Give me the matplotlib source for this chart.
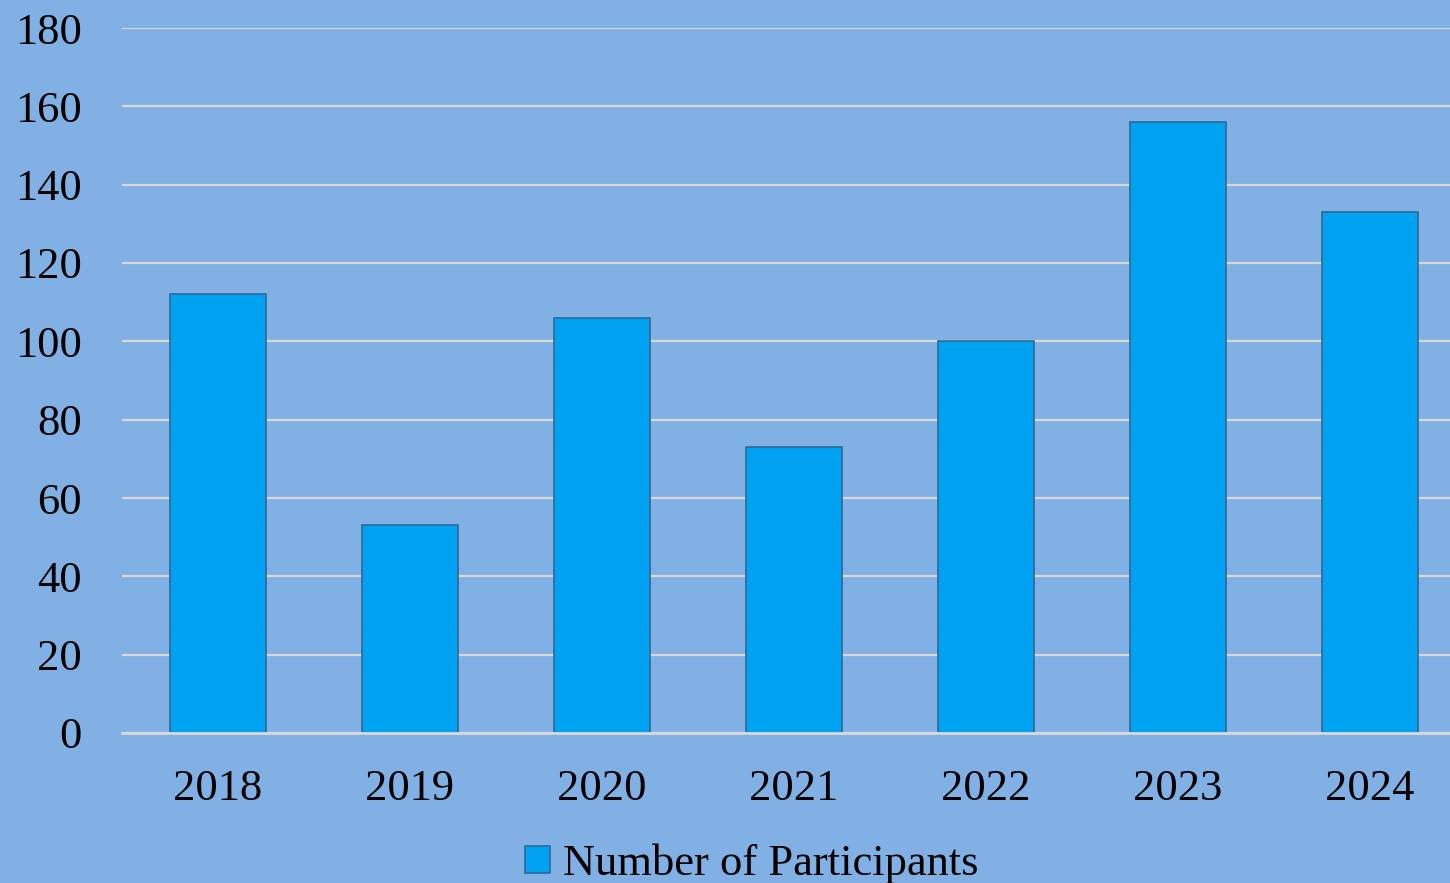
import matplotlib.pyplot as plt
import numpy as np
from matplotlib.patches import Patch

years = ["2018", "2019", "2020", "2021", "2022", "2023", "2024"]
participants = [112, 53, 106, 73, 100, 156, 133]
y_ticks = [0, 20, 40, 60, 80, 100, 120, 140, 160, 180]

bg = "#80B0E4"
bar_color = "#00A3F2"
edge_color = "#2E6896"
grid_color = "#D9D9D9"

plt.rcParams["font.family"] = ["Liberation Serif", "DejaVu Serif"]

fig = plt.figure(figsize=(14.5, 8.83), dpi=100, facecolor=bg)
ax = fig.add_axes([122 / 1450, 150 / 883, 1344 / 1450, 705 / 883])
ax.set_facecolor(bg)

x = np.arange(len(years))
ax.bar(x, participants, width=0.5, color=bar_color, edgecolor=edge_color,
       linewidth=1.2, zorder=3)

ax.set_xlim(-0.5, len(years) - 0.5)
ax.set_ylim(0, 180)
ax.set_yticks(y_ticks)
ax.set_xticks(x)
ax.set_xticklabels(years)

ax.grid(axis="y", color=grid_color, linewidth=1.6, zorder=0)
ax.set_axisbelow(True)
for side in ["top", "right", "left", "bottom"]:
    ax.spines[side].set_visible(False)
ax.axhline(0, color=grid_color, linewidth=2, zorder=4, clip_on=False)

ax.tick_params(axis="both", length=0, labelsize=32, colors="black")
ax.tick_params(axis="y", pad=29)
ax.tick_params(axis="x", pad=26)

handle = Patch(facecolor=bar_color, edgecolor=edge_color, linewidth=1.2)
fig.legend([handle], ["Number of Participants"], loc="center",
           bbox_to_anchor=(752 / 1450, 1 - 864 / 883), frameon=False,
           fontsize=32, handlelength=0.55, handleheight=0.55, handletextpad=0.3)

fig.savefig("out.png", dpi=100, facecolor=bg)
